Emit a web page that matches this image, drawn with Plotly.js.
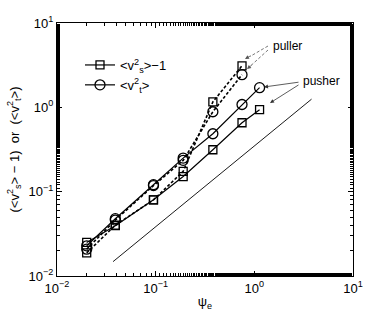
<!DOCTYPE html>
<html><head><meta charset="utf-8">
<script src="https://cdn.plot.ly/plotly-3.0.1.min.js"></script>
<style>html,body{margin:0;padding:0;background:#fff}#c{width:390px;height:313px}</style>
</head><body><div id="c"></div>
<script>
// psi_e values
var psiPusher = [0.02, 0.039, 0.095, 0.19, 0.38, 0.75, 1.13];
var psiPuller = [0.02, 0.039, 0.095, 0.19, 0.38, 0.75];
// <v_s^2>-1
var pusherS = [0.025, 0.0395, 0.080, 0.151, 0.314, 0.656, 0.937];
var pullerS = [0.0188, 0.040, 0.080, 0.174, 1.16, 3.11];
// <v_t^2>
var pusherT = [0.0228, 0.0478, 0.121, 0.25, 0.486, 1.08, 1.71];
var pullerT = [0.0208, 0.046, 0.118, 0.235, 0.887, 2.44];
// reference slope line
var refX = [0.037, 3.8];
var refY = [0.0148, 1.25];
// tick labels
var tickVals = [0.01, 0.1, 1, 10];
var tickText = ['10<sup>−2</sup>', '10<sup>−1</sup>', '10<sup>0</sup>', '10<sup>1</sup>'];

var sq = {symbol:'square-open', size:8, color:'#000', line:{width:1.3}};
var ci = {symbol:'circle-open', size:10, color:'#000', line:{width:1.3}};
var traces = [
  {x:refX, y:refY, mode:'lines', line:{color:'#000', width:0.9}, showlegend:false},
  {x:psiPuller, y:pullerS, mode:'lines+markers', line:{color:'#000', width:1.6, dash:'3px,2px'}, marker:sq, showlegend:false},
  {x:psiPuller, y:pullerT, mode:'lines+markers', line:{color:'#000', width:1.6, dash:'3px,2px'}, marker:ci, showlegend:false},
  {x:psiPusher, y:pusherS, mode:'lines+markers', line:{color:'#000', width:1.2}, marker:sq, showlegend:false},
  {x:psiPusher, y:pusherT, mode:'lines+markers', line:{color:'#000', width:1.2}, marker:ci, showlegend:false},
  {x:[null], y:[null], mode:'lines+markers', line:{color:'#000', width:1.2}, marker:sq, name:'&lt;v<sup>2</sup><sub>s</sub>&gt;−1'},
  {x:[null], y:[null], mode:'lines+markers', line:{color:'#000', width:1.2}, marker:ci, name:'&lt;v<sup>2</sup><sub>t</sub>&gt;'}
];

var L=57, R=353, T=23, B=276;
function px(x){return (x-L)/(R-L);}
function py(y){return (B-y)/(B-T);}
var ann = [
  {xref:'paper', yref:'paper', x:px(271), y:py(46), text:'puller', showarrow:false, xanchor:'left', yanchor:'middle', font:{size:12}},
  {xref:'paper', yref:'paper', x:px(301), y:py(81), text:'pusher', showarrow:false, xanchor:'left', yanchor:'middle', font:{size:12}},
  // pusher arrows
  {xref:'paper', yref:'paper', x:px(264), y:py(87), ax:36, ay:-5, text:'', showarrow:true, arrowhead:2, arrowsize:1, arrowwidth:0.8, arrowcolor:'#333', standoff:0},
  {xref:'paper', yref:'paper', x:px(270), y:py(103), ax:30, ay:-19, text:'', showarrow:true, arrowhead:2, arrowsize:1, arrowwidth:0.8, arrowcolor:'#333', standoff:0},
  // puller arrowheads
  {xref:'paper', yref:'paper', x:px(245), y:py(59), ax:7, ay:-4, text:'', showarrow:true, arrowhead:2, arrowsize:1, arrowwidth:0.8, arrowcolor:'#555', standoff:0},
  {xref:'paper', yref:'paper', x:px(247), y:py(69), ax:6, ay:-5, text:'', showarrow:true, arrowhead:2, arrowsize:1, arrowwidth:0.8, arrowcolor:'#555', standoff:0}
];
var shapes = [
  {type:'line', xref:'paper', yref:'paper', x0:px(268), y0:py(46), x1:px(250), y1:py(56.5), line:{color:'#555', width:0.8, dash:'3px,2px'}},
  {type:'line', xref:'paper', yref:'paper', x0:px(268), y0:py(50), x1:px(251), y1:py(65.5), line:{color:'#555', width:0.8, dash:'3px,2px'}}
];

var axisCommon = {type:'log', tickmode:'array', tickvals:tickVals, ticktext:tickText, showgrid:false, zeroline:false,
  ticks:'inside', ticklen:5, tickcolor:'#000', showline:true, linecolor:'#000', linewidth:1, mirror:'allticks',
  minor:{ticks:'inside', ticklen:3, tickcolor:'#000', showgrid:false},
  tickfont:{family:'Liberation Sans, Arial, sans-serif', size:13, color:'#000'}};
var xa = Object.assign({}, axisCommon, {range:[-2,1],
  title:{text:'ψ<sub>e</sub>', font:{family:'Liberation Sans, Arial', size:13, color:'#000'}, standoff:2}});
var ya = Object.assign({}, axisCommon, {range:[-2,1],
  title:{text:'(&lt;v<sup>2</sup><sub>s</sub>&gt; − 1)  or  (&lt;v<sup>2</sup><sub>t</sub>&gt;)', font:{family:'Liberation Sans, Arial', size:13, color:'#000'}, standoff:6}});

Plotly.newPlot('c', traces, {
  width:390, height:313, margin:{l:L, r:390-R, t:T, b:313-B},
  paper_bgcolor:'#fff', plot_bgcolor:'#fff',
  xaxis:xa, yaxis:ya, annotations:ann, shapes:shapes,
  showlegend:true,
  legend:{x:px(80), y:py(50), xanchor:'left', yanchor:'top', bgcolor:'rgba(0,0,0,0)', itemwidth:30, tracegroupgap:0,
    font:{family:'Liberation Sans, Arial', size:13, color:'#000'}},
  font:{family:'Liberation Sans, Arial', color:'#000'}
}, {staticPlot:true});
</script></body></html>
